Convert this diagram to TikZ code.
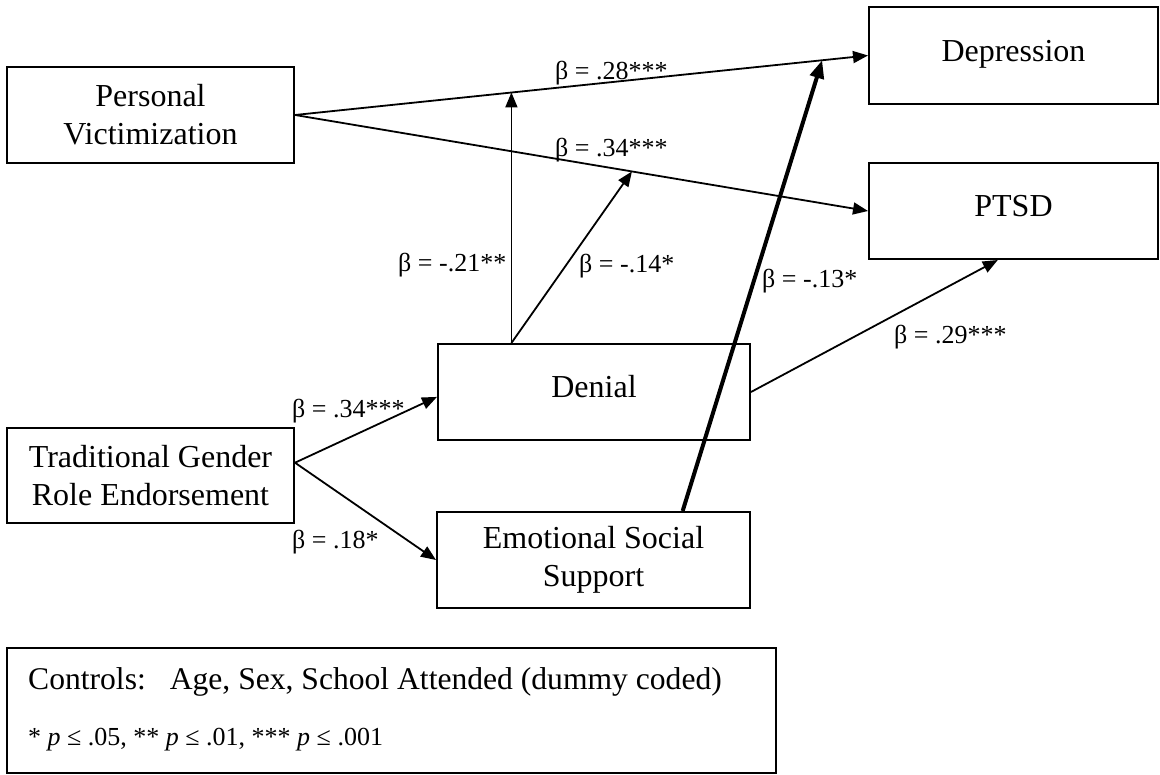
\documentclass[tikz,border=0pt]{standalone}
\usepackage{fontspec}
\setmainfont{Liberation Serif}
\usetikzlibrary{arrows.meta,calc}
\begin{document}
\begin{tikzpicture}[x=1pt,y=-1pt,
  box/.style={draw,line width=2pt,rectangle,inner sep=0pt,font=\fontsize{32}{38}\selectfont,align=center},
  onebox/.style={box,text height=22pt,text depth=10pt},
  lab/.style={font=\fontsize{26}{30}\selectfont,inner sep=0pt,anchor=base west},
  conn/.style={line width=1.8pt,-{Triangle[length=15pt,width=12pt]}},
  thickconn/.style={line width=4pt,-{Triangle[length=18pt,width=14pt]}}
]
\useasboundingbox (0,0) rectangle (1160,775);
% boxes
\node[box,minimum width=287pt,minimum height=96pt] (pv) at (150.5,115) {Personal\\Victimization};
\node[onebox,minimum width=289pt,minimum height=97pt] (dep) at (1013.5,55.5) {Depression};
\node[onebox,minimum width=289pt,minimum height=96pt] (ptsd) at (1013.5,211) {PTSD};
\node[onebox,minimum width=312pt,minimum height=96pt] (den) at (594,392) {Denial};
\node[box,minimum width=287pt,minimum height=95pt] (tg) at (150.5,475.5) {Traditional Gender\\Role Endorsement};
\node[box,minimum width=313pt,minimum height=96pt] (ess) at (593.5,560) {Emotional Social\\Support};
\node[draw,line width=2pt,rectangle,inner sep=0pt,minimum width=769pt,minimum height=125pt] (leg) at (391.5,710.5) {};
% helper coordinates
\coordinate (m1) at ($(pv.east)!0.379!(dep.west)$);
\coordinate (m2) at ($(pv.east)!0.588!(ptsd.west)$);
\coordinate (m3) at ($(pv.east)!0.92!(dep.west)$);
\coordinate (d1) at ($(den.north west)!0.237!(den.north east)$);
\coordinate (e1) at ($(ess.north west)!0.783!(ess.north east)$);
\coordinate (p1) at ($(ptsd.south west)!0.446!(ptsd.south east)$);
\coordinate (t1) at ($(tg.north east)!0.368!(tg.south east)$);
\coordinate (dl) at ($(den.north west)!0.55!(den.south west)$);
% connectors
\draw[conn] (pv.east) -- (dep.west);
\draw[conn] (pv.east) -- (ptsd.west);
\draw[conn] (d1) -- (d1 |- m1);
\draw[conn] (d1) -- (m2);
\draw[thickconn] (e1) -- (m3);
\draw[conn] (den.east) -- (p1);
\draw[conn] (t1) -- (dl);
\draw[conn] (t1) -- (ess.west);
% labels
\node[lab] (l1) at (555,80) {β = .28***};
\node[lab] (l2) at (555,157) {β = .34***};
\node[lab] (l3) at (398,272) {β = -.21**};
\node[lab] (l4) at (579,273) {β = -.14*};
\node[lab] (l5) at (762,288) {β = -.13*};
\node[lab] (l6) at (894,344) {β = .29***};
\node[lab] (l7) at (292,418) {β = .34***};
\node[lab] (l8) at (292,548) {β = .18*};
% legend text
\node[anchor=base west,inner sep=0pt,font=\fontsize{31.6}{38}\selectfont] (c1) at (28,689) {Controls:\hspace{24pt}Age, Sex, School Attended (dummy coded)};
\node[anchor=base west,inner sep=0pt,font=\fontsize{26}{30}\selectfont] (c2) at (28,745) {* \textit{p} ≤ .05, ** \textit{p} ≤ .01, *** \textit{p} ≤ .001};
\end{tikzpicture}
\end{document}
